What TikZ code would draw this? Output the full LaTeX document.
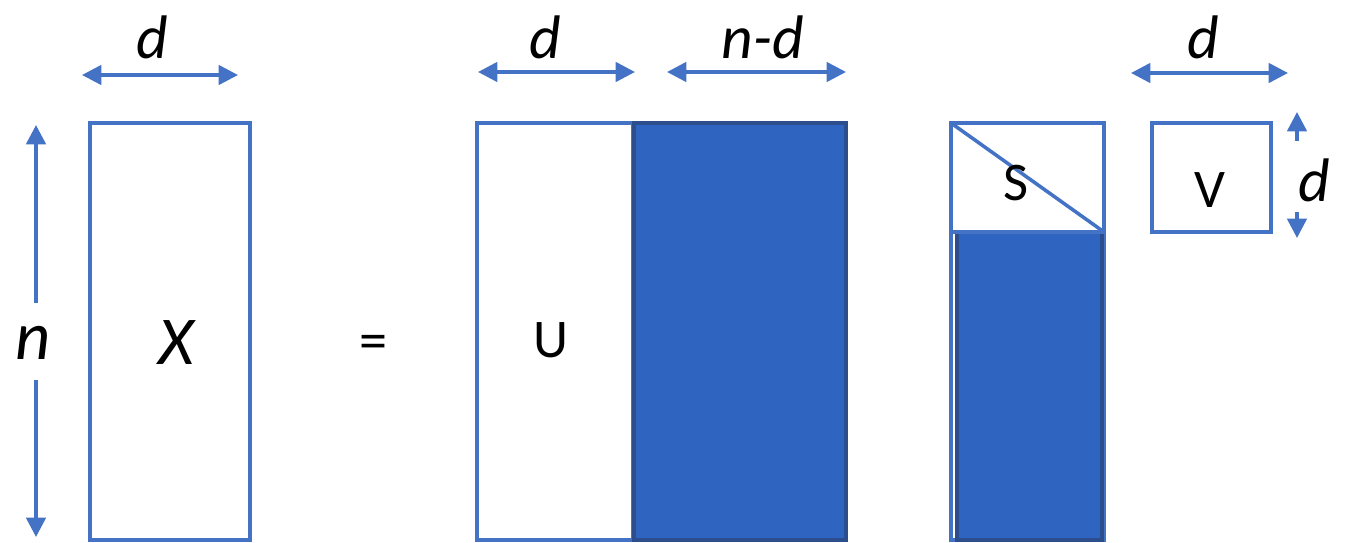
\documentclass[tikz,border=0pt]{standalone}
\usepackage{fontspec}
\setmainfont{Carlito}
\usetikzlibrary{arrows.meta, positioning, calc}
\definecolor{matblue}{RGB}{68, 114, 196}
\definecolor{blockblue}{RGB}{47, 101, 192}
\definecolor{blockedge}{RGB}{44, 78, 140}
\tikzset{
    matbox/.style={draw=matblue, line width=2pt, fill=white},
    fullbox/.style={draw=blockedge, line width=2pt, fill=blockblue},
    dimlabel/.style={font=\fontsize{35}{38}\selectfont\itshape, inner sep=0pt},
    matlabel/.style={font=\fontsize{31}{34}\selectfont, inner sep=0pt}
}
\begin{document}
\begin{tikzpicture}[
    x=0.02cm, y=-0.02cm,
    dim/.style={{Triangle[length=11pt, width=11pt]}-{Triangle[length=11pt, width=11pt]}, line width=2pt, matblue},
    halfdim/.style={-{Triangle[length=11pt, width=11pt]}, line width=2pt, matblue}
]
    \useasboundingbox (0,0) rectangle (1346,543);

    % --- LEFT SIDE: X ---
    \draw[matbox] (90,123) rectangle (250,540);
    \node[dimlabel, font=\fontsize{39}{42}\selectfont\itshape] (X) at (176,343) {X};
    \node[dimlabel, font=\fontsize{39}{42}\selectfont\itshape] (n) at (33,343) {n};
    \coordinate (ntop) at (36,125);
    \coordinate (nbot) at (36,537);
    \draw[halfdim] (36,303) -- (ntop);
    \draw[halfdim] (36,380) -- (nbot);
    \coordinate (xl) at (82,75);
    \coordinate (xr) at (238,75);
    \draw[dim] (xl) -- (xr);
    \node[dimlabel] (dx) at (152,37) {d};

    \node[matlabel, font=\fontsize{32}{34}\selectfont] (eq) at (373,347) {=};

    % --- U and its complement ---
    \draw[matbox] (477,123) rectangle (633,540);
    \draw[fullbox] (634,123) rectangle (846,540);
    \node[matlabel] (U) at (551,340) {U};
    \coordinate (ul) at (478,72);
    \coordinate (ur) at (635,72);
    \draw[dim] (ul) -- (ur);
    \node[dimlabel] (du) at (545,37) {d};
    \coordinate (cl) at (667,72);
    \coordinate (cr) at (846,72);
    \draw[dim] (cl) -- (cr);
    \node[dimlabel] (dn) at (763,37) {n-d};

    % --- S: diagonal block on top of zeros ---
    \draw[matbox] (951,123) rectangle (1104,540);
    \draw[fullbox] (957,232) rectangle (1102,540);
    \draw[matblue, line width=2pt] (951,123) -- (1104,232);
    \draw[matblue, line width=2pt] (951,232) -- (1104,232);
    \node[matlabel] (S) at (1016,183) {S};

    % --- V ---
    \draw[matbox] (1152,123) rectangle (1271,232);
    \node[matlabel] (V) at (1210,190) {V};
    \coordinate (vl) at (1131,73);
    \coordinate (vr) at (1288,73);
    \draw[dim] (vl) -- (vr);
    \node[dimlabel] (dv) at (1203,37) {d};
    \coordinate (vtop) at (1297,112);
    \coordinate (vbot) at (1297,238);
    \draw[halfdim] (1297,141) -- (vtop);
    \draw[halfdim] (1297,212) -- (vbot);
    \node[dimlabel] (dvv) at (1314,180) {d};
\end{tikzpicture}
\end{document}
